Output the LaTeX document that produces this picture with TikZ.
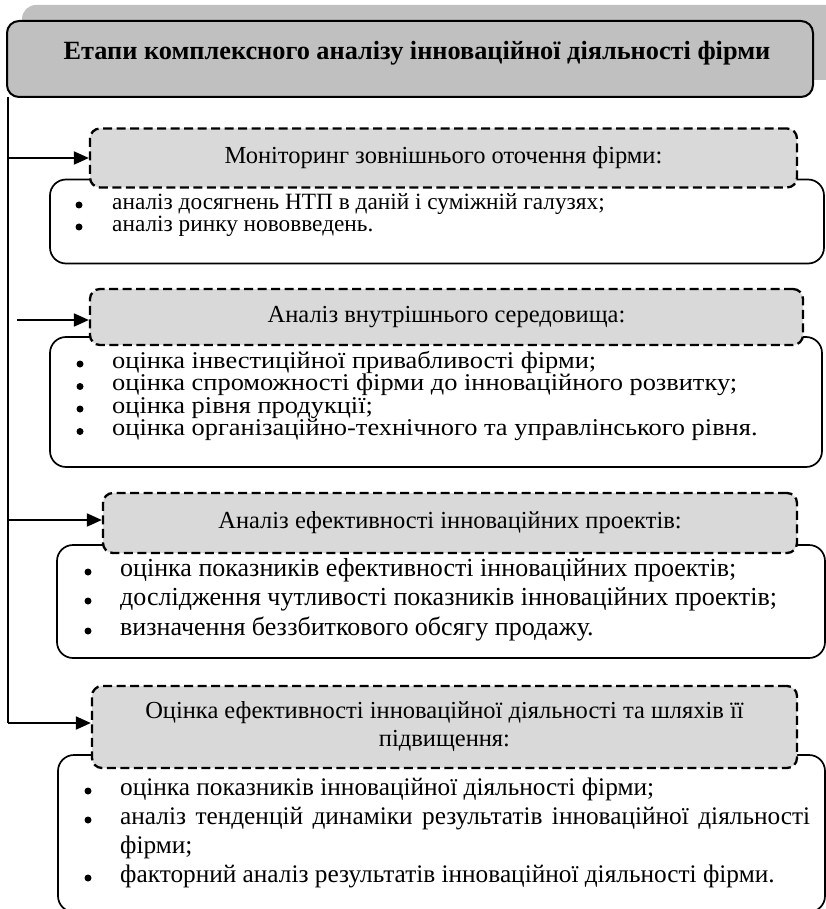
\documentclass[tikz,border=0pt]{standalone}
\usepackage{fontspec}
\setmainfont{Liberation Serif}
\newfontfamily\stretchedserif[FakeStretch=1.1]{Liberation Serif}
\usetikzlibrary{arrows.meta}
\definecolor{shadowgray}{HTML}{C0C0C0}
\definecolor{titlegray}{HTML}{C0C0C0}
\definecolor{stagegray}{HTML}{D9D9D9}
\newcommand{\bodysize}{\fontsize{24.5}{28}\selectfont}
\newcommand{\firstsize}{\fontsize{23.3}{26}\selectfont}
\newcommand{\secondsize}{\stretchedserif\fontsize{24}{26}\selectfont}
\newcommand{\thirdsize}{\fontsize{26}{29}\selectfont}
\newcommand{\fourthsize}{\fontsize{25.3}{29}\selectfont}
\tikzset{
  shadowbox/.style={fill=shadowgray, draw=none, rounded corners=14pt, inner sep=0pt},
  titlebox/.style={draw, line width=2pt, fill=titlegray, rounded corners=12pt, inner sep=0pt},
  titletext/.style={inner sep=0pt, font=\bfseries\fontsize{26.3}{30}\selectfont},
  stagebox/.style={draw, line width=2.3pt, dash pattern=on 9pt off 4.5pt, fill=stagegray,
    rounded corners=10pt, inner sep=0pt, align=center, font=\bodysize},
  listbox/.style={draw, line width=1.7pt, fill=white, rounded corners=16pt, inner sep=0pt},
  itemtext/.style={anchor=mid west, inner sep=0pt},
  bulletdot/.style={circle, fill=black, draw=none, minimum size=7pt, inner sep=0pt, yshift=2pt},
  flowline/.style={line width=2pt},
  flow/.style={line width=2pt, -{Triangle[length=15pt,width=13pt]}},
}
\begin{document}
\begin{tikzpicture}[x=1pt,y=-1pt]
\useasboundingbox (0,0) rectangle (825,909);
% title
\node[shadowbox, minimum width=818pt, minimum height=75pt] (shadow) at (431,42.5) {};
\node[titlebox, minimum width=806pt, minimum height=76pt] (title) at (410,59) {};
\node[titletext] (ttl) at (417,53) {Етапи комплексного аналізу інноваційної діяльності фірми};
% list boxes
\node[listbox, minimum width=774pt, minimum height=84pt] (c1) at (437,221.5) {};
\node[listbox, minimum width=772pt, minimum height=130pt] (c2) at (436,402) {};
\node[listbox, minimum width=768pt, minimum height=113pt] (c3) at (441,601.5) {};
\node[listbox, minimum width=767pt, minimum height=157pt] (c4) at (441.5,833.5) {};
% stage boxes
\node[stagebox, minimum width=707pt, minimum height=59pt] (s1) at (443.5,158) {Моніторинг зовнішнього оточення фірми:};
\node[stagebox, minimum width=713pt, minimum height=56pt] (s2) at (446.5,317) {Аналіз внутрішнього середовища:};
\node[stagebox, minimum width=694pt, minimum height=60pt] (s3) at (450,523) {Аналіз ефективності інноваційних проектів:};
\node[stagebox, minimum width=705pt, minimum height=82pt] (s4) at (444.5,727) {Оцінка ефективності інноваційної діяльності та шляхів її\\[0pt] підвищення:};
% items 1
\begin{scope}[every node/.append style={font=\firstsize}]
\node[bulletdot] (b11) at (79,207) {};
\node[itemtext] (t11) at (112,207) {аналіз досягнень НТП в даній і суміжній галузях;};
\node[bulletdot] (b12) at (79,229) {};
\node[itemtext] (t12) at (112,229) {аналіз ринку нововведень.};
\end{scope}
% items 2
\begin{scope}[every node/.append style={font=\secondsize}]
\node[bulletdot] (b21) at (80,366) {};
\node[itemtext] (t21) at (112,366) {оцінка інвестиційної привабливості фірми;};
\node[bulletdot] (b22) at (80,388.5) {};
\node[itemtext] (t22) at (112,388.5) {оцінка спроможності фірми до інноваційного розвитку;};
\node[bulletdot] (b23) at (80,411) {};
\node[itemtext] (t23) at (112,411) {оцінка рівня продукції;};
\node[bulletdot] (b24) at (80,433.5) {};
\node[itemtext] (t24) at (112,433.5) {оцінка організаційно-технічного та управлінського рівня.};
\end{scope}
% items 3
\begin{scope}[every node/.append style={font=\thirdsize}]
\node[bulletdot] (b31) at (88,574) {};
\node[itemtext] (t31) at (120,574) {оцінка показників ефективності інноваційних проектів;};
\node[bulletdot] (b32) at (88,603) {};
\node[itemtext] (t32) at (120,603) {дослідження чутливості показників інноваційних проектів;};
\node[bulletdot] (b33) at (88,633) {};
\node[itemtext] (t33) at (120,633) {визначення беззбиткового обсягу продажу.};
\end{scope}
% items 4
\begin{scope}[every node/.append style={font=\fourthsize}]
\node[bulletdot] (b41) at (88,793) {};
\node[itemtext] (t41) at (120,793) {оцінка показників інноваційної діяльності фірми;};
\node[bulletdot] (b42) at (88,822) {};
\node[itemtext] (t42) at (120,822) {\makebox[690pt][s]{аналіз тенденцій динаміки результатів інноваційної діяльності}};
\node[itemtext] (t42b) at (120,851) {фірми;};
\node[bulletdot] (b43) at (88,880) {};
\node[itemtext] (t43) at (120,880) {факторний аналіз результатів інноваційної діяльності фірми.};
\end{scope}
% connectors
\coordinate (vtop) at (8,97);
\coordinate (v1) at (8,158);
\coordinate (v2) at (17,320);
\coordinate (v3) at (8,520);
\coordinate (v4) at (8,723);
\draw[flowline] (vtop) -- (v4);
\draw[flow] (v1) -- (v1 -| s1.west);
\draw[flow] (v2) -- (v2 -| s2.west);
\draw[flow] (v3) -- (v3 -| s3.west);
\draw[flow] (v4) -- (v4 -| s4.west);
\end{tikzpicture}
\end{document}
